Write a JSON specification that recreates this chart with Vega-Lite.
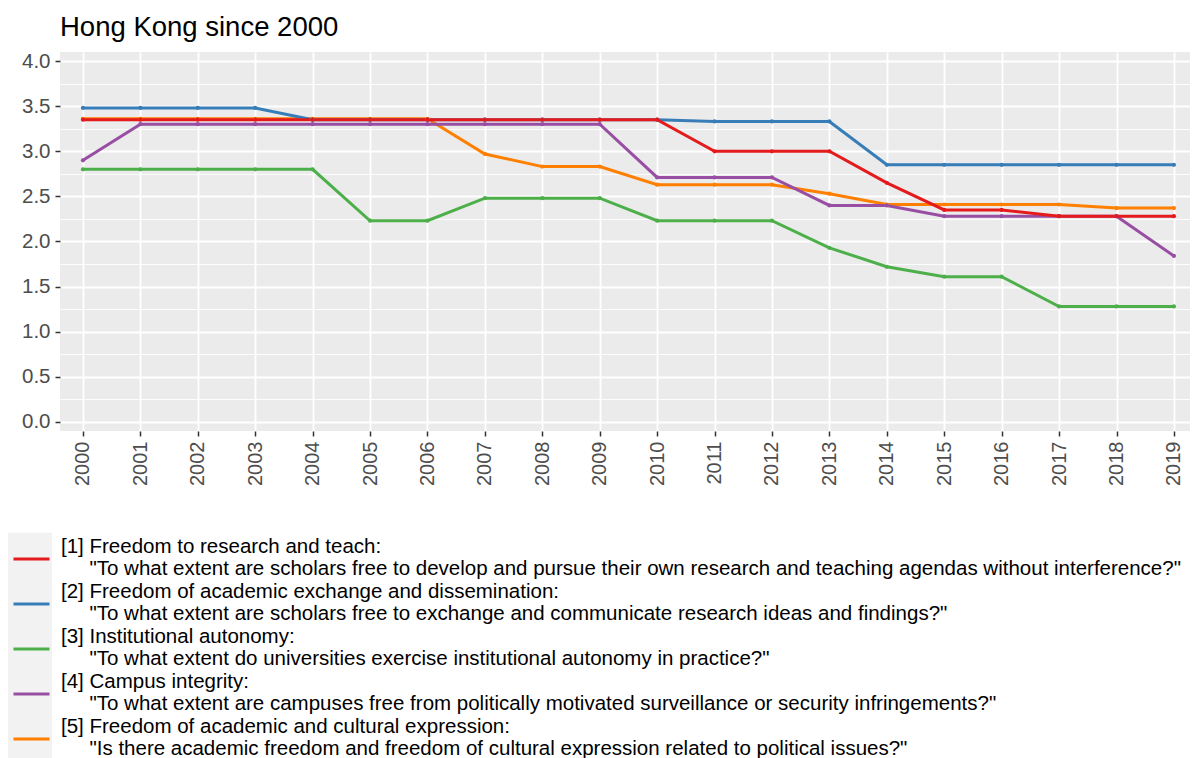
{
  "$schema": "https://vega.github.io/schema/vega-lite/v6.json",
  "autosize": "none",
  "width": 1130,
  "height": 379,
  "padding": {"left": 60, "top": 52, "right": 6, "bottom": 327},
  "background": "white",
  "config": {
    "view": {"fill": "#EBEBEB", "stroke": null},
    "font": "Liberation Sans"
  },
  "title": {
    "text": "Hong Kong since 2000",
    "anchor": "start",
    "frame": "group",
    "fontSize": 27.5,
    "fontWeight": "normal",
    "font": "Liberation Sans",
    "color": "#000000",
    "baseline": "alphabetic",
    "offset": 16,
    "dy": 28
  },
  "datasets": {
    "labels": [
      {"key": 1, "label": "[1] Freedom to research and teach:|\"To what extent are scholars free to develop and pursue their own research and teaching agendas without interference?\""},
      {"key": 2, "label": "[2] Freedom of academic exchange and dissemination:|\"To what extent are scholars free to exchange and communicate research ideas and findings?\""},
      {"key": 3, "label": "[3] Institutional autonomy:|\"To what extent do universities exercise institutional autonomy in practice?\""},
      {"key": 4, "label": "[4] Campus integrity:|\"To what extent are campuses free from politically motivated surveillance or security infringements?\""},
      {"key": 5, "label": "[5] Freedom of academic and cultural expression:|\"Is there academic freedom and freedom of cultural expression related to political issues?\""}
    ],
    "scores": [
      {"year": 2000, "key": 5, "value": 3.36}, {"year": 2001, "key": 5, "value": 3.36}, {"year": 2002, "key": 5, "value": 3.36}, {"year": 2003, "key": 5, "value": 3.36}, {"year": 2004, "key": 5, "value": 3.36},
      {"year": 2005, "key": 5, "value": 3.36}, {"year": 2006, "key": 5, "value": 3.36}, {"year": 2007, "key": 5, "value": 2.97}, {"year": 2008, "key": 5, "value": 2.83}, {"year": 2009, "key": 5, "value": 2.83},
      {"year": 2010, "key": 5, "value": 2.63}, {"year": 2011, "key": 5, "value": 2.63}, {"year": 2012, "key": 5, "value": 2.63}, {"year": 2013, "key": 5, "value": 2.53}, {"year": 2014, "key": 5, "value": 2.41},
      {"year": 2015, "key": 5, "value": 2.41}, {"year": 2016, "key": 5, "value": 2.41}, {"year": 2017, "key": 5, "value": 2.41}, {"year": 2018, "key": 5, "value": 2.37}, {"year": 2019, "key": 5, "value": 2.37},

      {"year": 2000, "key": 4, "value": 2.9}, {"year": 2001, "key": 4, "value": 3.3}, {"year": 2002, "key": 4, "value": 3.3}, {"year": 2003, "key": 4, "value": 3.3}, {"year": 2004, "key": 4, "value": 3.3},
      {"year": 2005, "key": 4, "value": 3.3}, {"year": 2006, "key": 4, "value": 3.3}, {"year": 2007, "key": 4, "value": 3.3}, {"year": 2008, "key": 4, "value": 3.3}, {"year": 2009, "key": 4, "value": 3.3},
      {"year": 2010, "key": 4, "value": 2.71}, {"year": 2011, "key": 4, "value": 2.71}, {"year": 2012, "key": 4, "value": 2.71}, {"year": 2013, "key": 4, "value": 2.4}, {"year": 2014, "key": 4, "value": 2.4},
      {"year": 2015, "key": 4, "value": 2.28}, {"year": 2016, "key": 4, "value": 2.28}, {"year": 2017, "key": 4, "value": 2.28}, {"year": 2018, "key": 4, "value": 2.28}, {"year": 2019, "key": 4, "value": 1.84},

      {"year": 2000, "key": 3, "value": 2.8}, {"year": 2001, "key": 3, "value": 2.8}, {"year": 2002, "key": 3, "value": 2.8}, {"year": 2003, "key": 3, "value": 2.8}, {"year": 2004, "key": 3, "value": 2.8},
      {"year": 2005, "key": 3, "value": 2.23}, {"year": 2006, "key": 3, "value": 2.23}, {"year": 2007, "key": 3, "value": 2.48}, {"year": 2008, "key": 3, "value": 2.48}, {"year": 2009, "key": 3, "value": 2.48},
      {"year": 2010, "key": 3, "value": 2.23}, {"year": 2011, "key": 3, "value": 2.23}, {"year": 2012, "key": 3, "value": 2.23}, {"year": 2013, "key": 3, "value": 1.93}, {"year": 2014, "key": 3, "value": 1.72},
      {"year": 2015, "key": 3, "value": 1.61}, {"year": 2016, "key": 3, "value": 1.61}, {"year": 2017, "key": 3, "value": 1.28}, {"year": 2018, "key": 3, "value": 1.28}, {"year": 2019, "key": 3, "value": 1.28},

      {"year": 2000, "key": 2, "value": 3.48}, {"year": 2001, "key": 2, "value": 3.48}, {"year": 2002, "key": 2, "value": 3.48}, {"year": 2003, "key": 2, "value": 3.48}, {"year": 2004, "key": 2, "value": 3.35},
      {"year": 2005, "key": 2, "value": 3.35}, {"year": 2006, "key": 2, "value": 3.35}, {"year": 2007, "key": 2, "value": 3.35}, {"year": 2008, "key": 2, "value": 3.35}, {"year": 2009, "key": 2, "value": 3.35},
      {"year": 2010, "key": 2, "value": 3.35}, {"year": 2011, "key": 2, "value": 3.33}, {"year": 2012, "key": 2, "value": 3.33}, {"year": 2013, "key": 2, "value": 3.33}, {"year": 2014, "key": 2, "value": 2.85},
      {"year": 2015, "key": 2, "value": 2.85}, {"year": 2016, "key": 2, "value": 2.85}, {"year": 2017, "key": 2, "value": 2.85}, {"year": 2018, "key": 2, "value": 2.85}, {"year": 2019, "key": 2, "value": 2.85},

      {"year": 2000, "key": 1, "value": 3.35}, {"year": 2001, "key": 1, "value": 3.35}, {"year": 2002, "key": 1, "value": 3.35}, {"year": 2003, "key": 1, "value": 3.35}, {"year": 2004, "key": 1, "value": 3.35},
      {"year": 2005, "key": 1, "value": 3.35}, {"year": 2006, "key": 1, "value": 3.35}, {"year": 2007, "key": 1, "value": 3.35}, {"year": 2008, "key": 1, "value": 3.35}, {"year": 2009, "key": 1, "value": 3.35},
      {"year": 2010, "key": 1, "value": 3.35}, {"year": 2011, "key": 1, "value": 3.0}, {"year": 2012, "key": 1, "value": 3.0}, {"year": 2013, "key": 1, "value": 3.0}, {"year": 2014, "key": 1, "value": 2.65},
      {"year": 2015, "key": 1, "value": 2.35}, {"year": 2016, "key": 1, "value": 2.35}, {"year": 2017, "key": 1, "value": 2.28}, {"year": 2018, "key": 1, "value": 2.28}, {"year": 2019, "key": 1, "value": 2.28}
    ]
  },
  "data": {"name": "scores"},
  "transform": [
    {"lookup": "key", "from": {"data": {"name": "labels"}, "key": "key", "fields": ["label"]}}
  ],
  "layer": [
    {
      "mark": {"type": "line", "strokeWidth": 3},
      "encoding": {
        "x": {
          "field": "year", "type": "quantitative",
          "scale": {"domain": [1999.6, 2019.28], "nice": false, "zero": false},
          "axis": {
            "title": null, "values": [2000,2001,2002,2003,2004,2005,2006,2007,2008,2009,2010,2011,2012,2013,2014,2015,2016,2017,2018,2019],
            "format": "d", "labelAngle": 270, "labelAlign": "right", "labelBaseline": "middle",
            "labelFontSize": 20, "labelColor": "#4D4D4D", "labelFont": "Liberation Sans", "labelPadding": 5,
            "tickColor": "#333333", "tickSize": 5, "tickWidth": 1.5, "domain": false,
            "grid": true, "gridColor": "#FFFFFF", "gridWidth": 1.8, "labelOverlap": false, "labelFlush": false
          }
        },
        "y": {
          "field": "value", "type": "quantitative",
          "scale": {"domain": [-0.1, 4.1], "nice": false, "zero": false},
          "axis": {
            "title": null, "values": [0, 0.5, 1, 1.5, 2, 2.5, 3, 3.5, 4], "format": ".1f",
            "labelFontSize": 20.5, "labelColor": "#4D4D4D", "labelFont": "Liberation Sans", "labelPadding": 5,
            "tickColor": "#333333", "tickSize": 5, "tickWidth": 1.5, "domain": false,
            "grid": true, "gridColor": "#FFFFFF", "gridWidth": 1.8, "labelOverlap": false, "labelFlush": false
          }
        },
        "color": {
          "field": "label", "type": "nominal",
          "scale": {"range": ["#E41A1C", "#377EB8", "#4DAF4A", "#984EA3", "#FF7F00"]},
          "legend": {
            "orient": "none", "legendX": -52, "legendY": 480.75, "title": null, "padding": 4,
            "symbolType": "stroke", "symbolSize": 1296, "symbolStrokeWidth": 3,
            "labelFontSize": 20.5, "labelFont": "Liberation Sans", "labelColor": "#000000",
            "labelLimit": 3000, "labelOffset": 10, "rowPadding": 0, "clipHeight": 44.5,
            "labelExpr": "[split(datum.label, '|')[0], '\u200b\u00a0\u00a0\u00a0\u00a0\u00a0' + split(datum.label, '|')[1]]",
            "encode": {
              "labels": {"update": {"lineHeight": {"value": 22.25}, "dy": {"value": -12}}},
              "legend": {"update": {"fill": {"value": {"gradient": "linear", "x1": 0, "y1": 0, "x2": 1, "y2": 0, "stops": [
                {"offset": 0, "color": "#F2F2F2"}, {"offset": 0.0373, "color": "#F2F2F2"},
                {"offset": 0.0374, "color": "#FFFFFF"}, {"offset": 1, "color": "#FFFFFF"}]}}}}
            }
          }
        }
      }
    },
    {
      "mark": {"type": "point", "filled": true, "size": 18, "opacity": 1},
      "encoding": {
        "x": {
          "field": "year", "type": "quantitative",
          "scale": {"domain": [1999.6, 2019.28], "nice": false, "zero": false},
          "axis": {
            "title": null, "values": [2000,2001,2002,2003,2004,2005,2006,2007,2008,2009,2010,2011,2012,2013,2014,2015,2016,2017,2018,2019],
            "format": "d", "labelAngle": 270, "labelAlign": "right", "labelBaseline": "middle",
            "labelFontSize": 20, "labelColor": "#4D4D4D", "labelFont": "Liberation Sans", "labelPadding": 5,
            "tickColor": "#333333", "tickSize": 5, "tickWidth": 1.5, "domain": false,
            "grid": true, "gridColor": "#FFFFFF", "gridWidth": 1.8, "labelOverlap": false, "labelFlush": false
          }
        },
        "y": {
          "field": "value", "type": "quantitative",
          "axis": {
            "orient": "right", "title": null, "values": [0.25, 0.75, 1.25, 1.75, 2.25, 2.75, 3.25, 3.75],
            "labels": false, "ticks": false, "domain": false,
            "grid": true, "gridColor": "#FFFFFF", "gridWidth": 0.9
          }
        },
        "color": {"field": "label", "type": "nominal", "legend": null}
      }
    }
  ],
  "resolve": {"axis": {"y": "independent"}}
}
